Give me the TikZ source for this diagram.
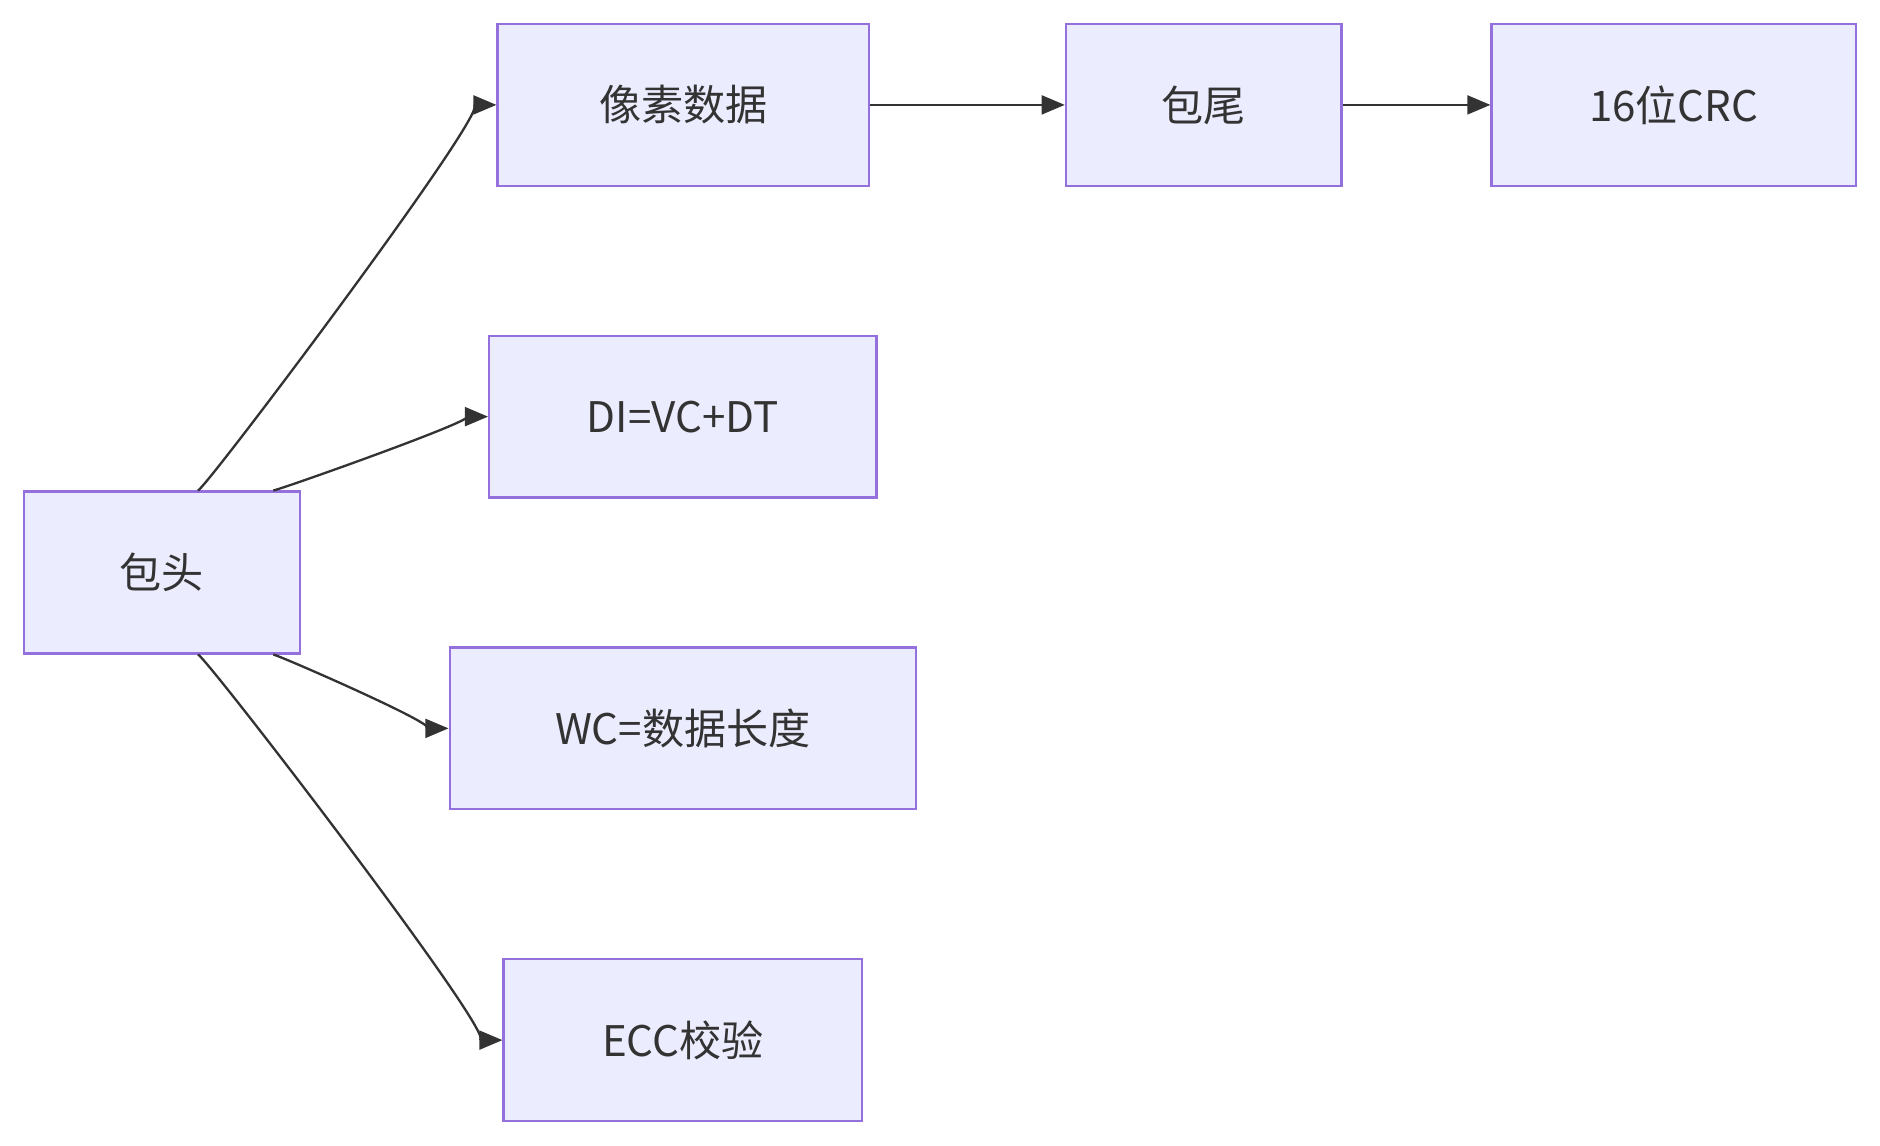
\documentclass[tikz,border=0pt]{standalone}
\usepackage{fontspec}
\setmainfont{Noto Sans CJK SC}
\usetikzlibrary{arrows.meta,positioning}
\definecolor{boxfill}{HTML}{ECECFF}
\definecolor{boxline}{HTML}{9370DB}
\definecolor{linkcol}{HTML}{333333}

\begin{document}
\begin{tikzpicture}[
    x=0.02cm, y=-0.02cm,
    part/.style={rectangle, draw=boxline, fill=boxfill, line width=1.1pt,
                 minimum height=2.7cm, font=\fontsize{20}{24}\selectfont, text=linkcol},
    link/.style={-{Triangle[length=11pt,width=9pt]}, line width=1.1pt, draw=linkcol}
]
\useasboundingbox (0,0) rectangle (1568,955);

% packet parts
\node[part, minimum width=4.6cm]  (head) at (135,477.5) {包头};
\node[part, minimum width=6.2cm]  (pix)  at (570,87.5)  {像素数据};
\node[part, minimum width=4.6cm]  (tail) at (1004,87.5) {包尾};
\node[part, minimum width=6.08cm] (crc)  at (1396,87.5) {16位CRC};
\node[part, minimum width=6.46cm] (di)   at (569.5,347.5) {DI=VC+DT};
\node[part, minimum width=7.78cm] (wc)   at (569.5,607.5) {WC=数据长度};
\node[part, minimum width=5.98cm] (ecc)  at (569.5,867.5) {ECC校验};

% links
\draw[link] ([xshift=0.6cm]head.north) .. controls +(2.1,4.6) and +(-1.7,0) .. (pix.west);
\draw[link] ([xshift=1.86cm]head.north) .. controls +(1.2,0.9) and +(-1.6,0) .. (di.west);
\draw[link] ([xshift=1.86cm]head.south) .. controls +(1.2,-0.9) and +(-1.6,0) .. (wc.west);
\draw[link] ([xshift=0.6cm]head.south) .. controls +(2.1,-4.6) and +(-1.7,0) .. (ecc.west);
\draw[link] (pix) -- (tail);
\draw[link] (tail) -- (crc);

\end{tikzpicture}
\end{document}
